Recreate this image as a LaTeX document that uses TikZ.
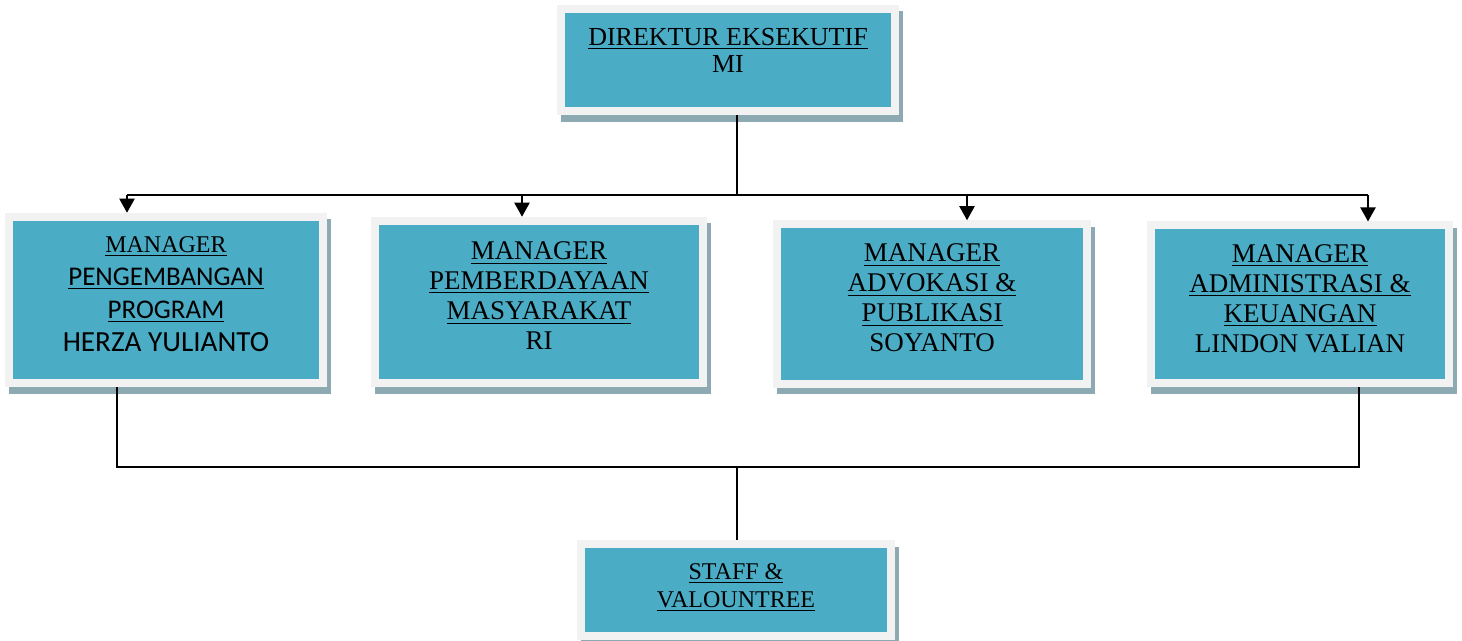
\documentclass[tikz,border=0pt]{standalone}
\usepackage{fontspec}
\setmainfont{Liberation Serif}
\newfontfamily\calfont{Carlito}
\usetikzlibrary{arrows.meta,shadows}
\definecolor{ink}{HTML}{000000}
\definecolor{boxteal}{HTML}{4BACC6}
\definecolor{boxrim}{HTML}{F2F2F2}
\definecolor{shadowcol}{HTML}{8DA9B2}

\begin{document}
\begin{tikzpicture}[
  x=0.5pt, y=-0.5pt, line cap=butt,
  orgbox/.style={draw=boxrim, fill=boxteal, line width=4pt, align=center,
                 text=ink, inner sep=0pt, text depth=6pt,
                 font=\fontsize{13.5}{15}\selectfont,
                 drop shadow={opacity=1, fill=shadowcol, draw=shadowcol,
                   line width=4pt, shadow xshift=1.75pt, shadow yshift=-3.25pt}},
  wire/.style={ink, line width=1pt},
  arr/.style={wire, -{Triangle[length=7pt,width=7.5pt]}}]
\useasboundingbox (0,0) rectangle (1462,641);

% ================================================================ top
\node[orgbox, minimum width=167pt, minimum height=51.25pt, text depth=9.5pt,
      font=\fontsize{13}{13.5}\selectfont] (dir) at (728,60)
  {\underline{DIREKTUR EKSEKUTIF}\\MI};

% ================================================================ managers
\node[orgbox, minimum width=157pt, minimum height=83.25pt,
      font=\fontsize{13.5}{16.5}\selectfont\calfont] (mprog) at (166,300)
  {{\rmfamily\fontsize{12}{16.5}\selectfont\underline{MANAGER}}\\
   \underline{PENGEMBANGAN}\\\underline{PROGRAM}\\
   {\fontsize{14.6}{16.5}\selectfont HERZA YULIANTO}};
\node[orgbox, minimum width=164pt, minimum height=81.25pt] (mpemb) at (539,302)
  {\underline{MANAGER}\\\underline{PEMBERDAYAAN}\\\underline{MASYARAKAT}\\RI};
\node[orgbox, minimum width=155pt, minimum height=79.75pt] (madv) at (932,304)
  {\underline{MANAGER}\\\underline{ADVOKASI \&}\\\underline{PUBLIKASI}\\SOYANTO};
\node[orgbox, minimum width=149pt, minimum height=79pt] (madm) at (1300,304.5)
  {\underline{MANAGER}\\\underline{ADMINISTRASI \&}\\\underline{KEUANGAN}\\LINDON VALIAN};

% ================================================================ bottom
\node[orgbox, minimum width=155pt, minimum height=46pt, text depth=4.5pt,
      font=\fontsize{12}{14}\selectfont] (staff) at (736,590)
  {\underline{STAFF \&}\\\underline{VALOUNTREE}};

% ================================================================ wiring
\coordinate (hub) at (737,195);
\coordinate (a1) at (127,195);
\coordinate (a2) at (522,195);
\coordinate (a3) at (967,195);
\coordinate (a4) at (1368,195);
\coordinate (b1) at (117,467);
\coordinate (b4) at (1359,467);
\coordinate (bm) at (737,467);

\draw[wire] (dir.south -| hub) -- (hub);
\draw[wire] (a1) -- (a4);
\draw[arr] (a1) -- (a1 |- mprog.north);
\draw[arr] (a2) -- (a2 |- mpemb.north);
\draw[arr] (a3) -- (a3 |- madv.north);
\draw[arr] (a4) -- (a4 |- madm.north);

\draw[wire] (mprog.south -| b1) -- (b1) -- (b4) -- (madm.south -| b4);
\draw[wire] (bm) -- (bm |- staff.north);

\end{tikzpicture}
\end{document}
